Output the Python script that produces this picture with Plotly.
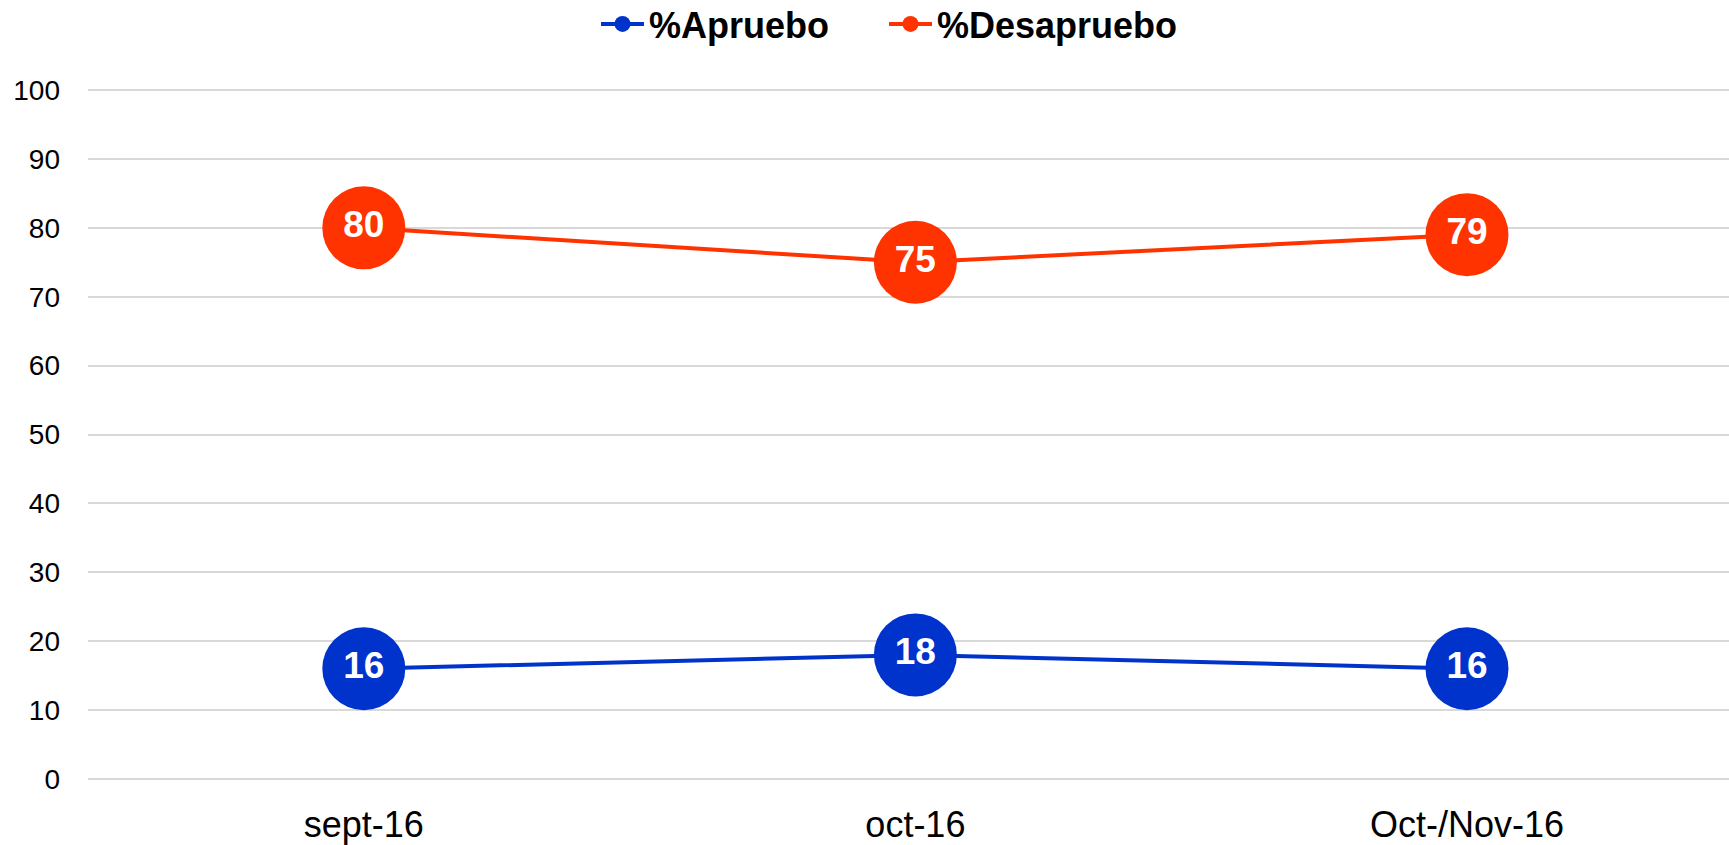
import plotly.graph_objects as go

categories = ["sept-16", "oct-16", "Oct-/Nov-16"]
apruebo = [16, 18, 16]
desapruebo = [80, 75, 79]
series_names = ["%Apruebo", "%Desapruebo"]
y_ticks = [0, 10, 20, 30, 40, 50, 60, 70, 80, 90, 100]

FONT = "Arial, Liberation Sans, sans-serif"
BLUE = "#0033CC"
RED = "#FF3300"

W, H = 1729, 845
L, T, B = 88, 89, 65
PH = H - T - B
PW = W - L

fig = go.Figure()
for name, vals, col, lg in [(series_names[0], apruebo, BLUE, "legend"),
                            (series_names[1], desapruebo, RED, "legend2")]:
    fig.add_trace(go.Scatter(
        x=categories, y=vals, name=name, legend=lg,
        mode="lines+markers+text",
        line=dict(color=col, width=4),
        marker=dict(color=col, size=83),
        text=[str(v) for v in vals],
        textposition="middle center",
        textfont=dict(color="white", size=37, family=FONT, weight="bold"),
        cliponaxis=False,
    ))

leg_common = dict(
    orientation="h", xref="paper", yref="paper",
    xanchor="left", yanchor="middle",
    y=1 + (T - 24) / PH,
    font=dict(size=36, family=FONT, weight="bold"),
    itemwidth=43, bgcolor="rgba(0,0,0,0)",
)

fig.update_layout(
    width=W, height=H,
    paper_bgcolor="white", plot_bgcolor="white",
    margin=dict(l=L, r=0, t=T, b=B, autoexpand=False),
    font=dict(family=FONT, color="black"),
    showlegend=True,
    legend=dict(leg_common, x=(596 - L) / PW),
    legend2=dict(leg_common, x=(884 - L) / PW),
    xaxis=dict(
        type="category", range=[-0.5, 2.475],
        showgrid=False, zeroline=False, showline=False,
        tickfont=dict(size=36, family=FONT, color="black"),
        ticks="", ticklabelstandoff=20,
    ),
    yaxis=dict(
        range=[-0.15, 100.15], tickvals=y_ticks,
        showgrid=True, gridcolor="#d9d9d9", gridwidth=2,
        zeroline=False,
        showline=False,
        tickfont=dict(size=28, family=FONT, color="black"),
        ticks="", ticklabelstandoff=27,
    ),
)

fig.write_html("out.html", config={"displayModeBar": False},
               post_script="document.body.style.margin='0px';")
